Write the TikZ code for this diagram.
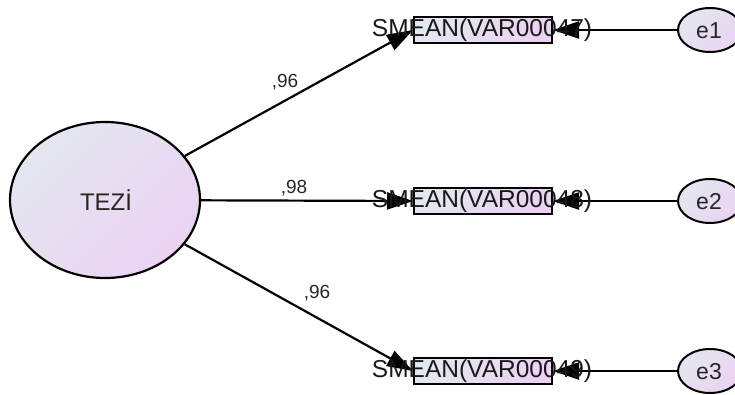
\documentclass[tikz,border=0pt]{standalone}
\usepackage{fontspec}
\setmainfont{Liberation Sans}
\usetikzlibrary{arrows.meta,shapes.geometric}
\definecolor{fillA}{HTML}{E3E7F0}
\definecolor{fillB}{HTML}{EBD2F2}
\begin{document}
\begin{tikzpicture}[x=1pt,y=-1pt,
  gradfill/.style={shading=axis,top color=fillA,bottom color=fillB,shading angle=45},
  latent/.style={ellipse,draw=black,line width=2.2pt,gradfill,inner sep=0pt},
  observed/.style={rectangle,draw=black,line width=2pt,gradfill,minimum width=138pt,minimum height=26pt,inner sep=0pt},
  obstext/.style={font=\fontsize{24.5}{26}\selectfont,text=black!90},
  path/.style={line width=2.2pt,-{Triangle[length=26pt,width=17pt]}},
  weight/.style={font=\fontsize{19}{20}\selectfont,text=black!85}]
\useasboundingbox (0,0) rectangle (735,394);

% latent factor
\node[latent,minimum width=190pt,minimum height=156pt] (tezi) at (105,200) {};
\node[font=\fontsize{24}{26}\selectfont,text=black!85] at (106,200) {TEZİ};

% observed indicators
\node[observed] (b1) at (483,30) {};
\node[observed] (b2) at (483,201) {};
\node[observed] (b3) at (483,371) {};

% error terms
\node[latent,line width=2pt,minimum width=64pt,minimum height=44pt] (e1) at (710,30) {};
\node[latent,line width=2pt,minimum width=64pt,minimum height=44pt] (e2) at (710,201) {};
\node[latent,line width=2pt,minimum width=64pt,minimum height=44pt] (e3) at (710,371) {};

% loadings
\draw[path] (tezi) -- (b1.west);
\draw[path] (tezi) -- (b2.west);
\draw[path] (tezi) -- (b3.west);

% error paths
\draw[path] (e1) -- (b1.east);
\draw[path] (e2) -- (b2.east);
\draw[path] (e3) -- (b3.east);

% labels drawn on top
\node[obstext] (t1) at (482,30) {SMEAN(VAR00047)};
\node[obstext] (t2) at (482,201) {SMEAN(VAR00048)};
\node[obstext] (t3) at (482,371) {SMEAN(VAR00049)};
\node[font=\fontsize{23}{24}\selectfont,text=black!85] (l1) at (709,31) {e1};
\node[font=\fontsize{23}{24}\selectfont,text=black!85] (l2) at (709,202) {e2};
\node[font=\fontsize{23}{24}\selectfont,text=black!85] (l3) at (709,372) {e3};

\node[weight] (w1) at (285,82) {,96};
\node[weight] (w2) at (294,188) {,98};
\node[weight] (w3) at (317,293) {,96};
\end{tikzpicture}
\end{document}
